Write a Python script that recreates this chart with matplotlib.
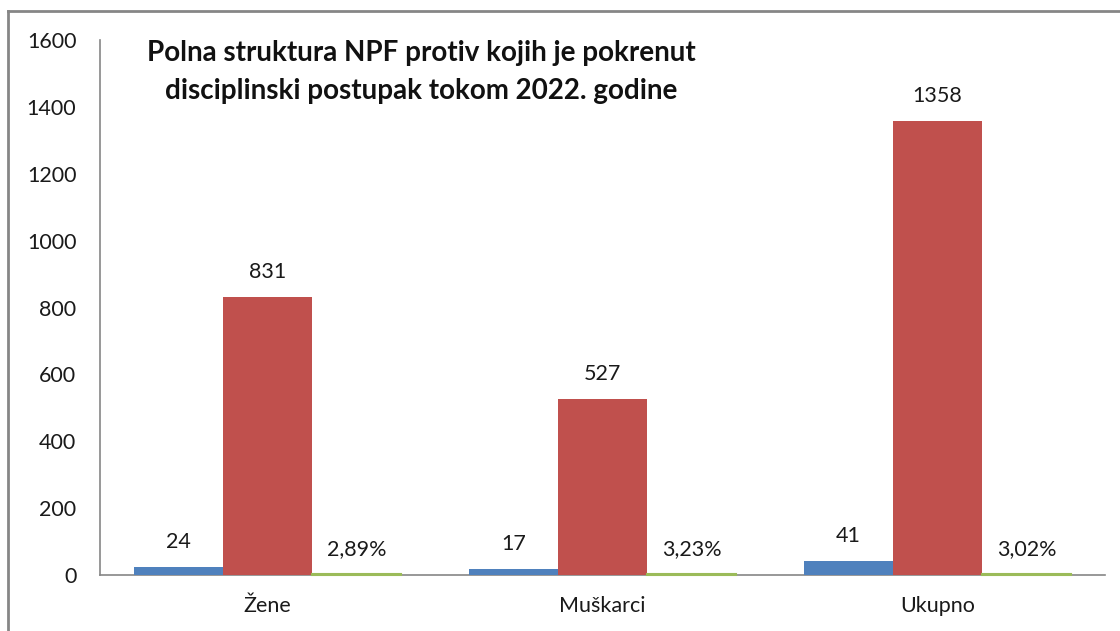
import numpy as np
import matplotlib
matplotlib.use('Agg')
import matplotlib.pyplot as plt
from matplotlib.lines import Line2D

plt.rcParams['font.family'] = ['Lato', 'DejaVu Sans']

# podaci sa grafikona
categories = ['Žene', 'Muškarci', 'Ukupno']
blue_values = [24, 17, 41]
red_values = [831, 527, 1358]
green_pct = [2.89, 3.23, 3.02]

title = 'Polna struktura NPF protiv kojih je pokrenut\ndisciplinski postupak tokom 2022. godine'

fig = plt.figure(figsize=(11.2, 6.31), dpi=100)
ax = fig.add_axes([100 / 1120, 1 - 575 / 631, 1005 / 1120, 535 / 631])

x = np.arange(len(categories))
w = 0.266
axis_gray = '#868686'

b1 = ax.bar(x - w, blue_values, w, color='#4F81BD', zorder=3)
b2 = ax.bar(x, red_values, w, color='#C0504D', zorder=3)
b3 = ax.bar(x + w, green_pct, w, color='#9BBB59', edgecolor='#9BBB59',
            linewidth=1.5, zorder=3, clip_on=False)

for bars, labels in [(b1, [str(v) for v in blue_values]),
                     (b2, [str(v) for v in red_values]),
                     (b3, [f'{v:.2f}%'.replace('.', ',') for v in green_pct])]:
    for rect, lab in zip(bars, labels):
        ax.annotate(lab, (rect.get_x() + rect.get_width() / 2, rect.get_height()),
                    xytext=(0, 11), textcoords='offset points',
                    ha='center', va='bottom', fontsize=15.5, color='#1a1a1a')

ax.set_xlim(-0.5, 2.5)
ax.set_ylim(0, 1600)
ax.set_yticks(range(0, 1601, 200))
ax.set_xticks(x)
ax.set_xticklabels(categories)
ax.tick_params(axis='y', length=0, pad=17, labelsize=15.5, labelcolor='#1a1a1a')
ax.tick_params(axis='x', length=0, pad=15, labelsize=15.5, labelcolor='#1a1a1a')

for side in ['top', 'right']:
    ax.spines[side].set_visible(False)
for side in ['left', 'bottom']:
    ax.spines[side].set_color(axis_gray)
    ax.spines[side].set_linewidth(1.2)

ax.text(0.32, 1.0, title, transform=ax.transAxes, ha='center', va='top',
        fontsize=20, fontweight='bold', linespacing=1.55, color='#111111')

# okvir grafikona
fig.add_artist(Line2D([8 / 1120, 8 / 1120], [0, 1 - 11 / 631], color=axis_gray, lw=2))
fig.add_artist(Line2D([8 / 1120, 1], [1 - 11 / 631, 1 - 11 / 631], color=axis_gray, lw=2))

fig.savefig('out.png', dpi=100)
